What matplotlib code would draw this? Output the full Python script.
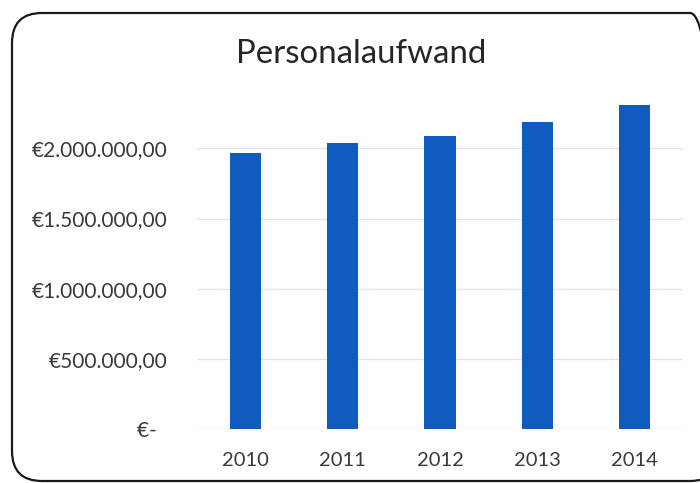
"""Personalaufwand 2010-2014 als Säulendiagramm (PNG)."""

import matplotlib
matplotlib.use("Agg")

import matplotlib.pyplot as plt
from matplotlib.patches import FancyBboxPatch

# Daten
jahre = ["2010", "2011", "2012", "2013", "2014"]
personalaufwand = [1965000, 2036000, 2090000, 2185000, 2308000]
y_ticks = [0, 500000, 1000000, 1500000, 2000000]

FARBE_BALKEN = "#0f5cbe"
FARBE_TEXT = "#3a3a3a"
FARBE_GITTER = "#e3e3e3"

plt.rcParams["font.family"] = ["Lato", "DejaVu Sans"]


def _euro(v, _=None):
    # Buchhaltungsformat: Null als "€-" mit Abstand nach rechts
    if v == 0:
        return "€-  "
    s = f"{v:,.2f}"
    return "€" + s.replace(",", "X").replace(".", ",").replace("X", ".")


W, H = 700, 483
fig = plt.figure(figsize=(W / 100, H / 100), dpi=100)
fig.patch.set_facecolor("white")

# Plotbereich in Pixeln: links 197, rechts 683, unten 429, oben 99
ax = fig.add_axes([197 / W, 1 - 429.3 / H, (683 - 197) / W, (429.3 - 99) / H])
x = range(len(jahre))
ax.bar(x, personalaufwand, width=0.32, color=FARBE_BALKEN, zorder=3)
ax.set_xlim(-0.5, len(jahre) - 0.5)
ax.set_ylim(0, 2351000)
ax.set_xticks(list(x))
ax.set_xticklabels(jahre)
ax.set_yticks(y_ticks)
ax.yaxis.set_major_formatter(plt.FuncFormatter(_euro))
ax.grid(axis="y", color=FARBE_GITTER, linewidth=1.0, zorder=0)
ax.tick_params(length=0, colors=FARBE_TEXT)
ax.tick_params(axis="y", pad=21, labelsize=15)
ax.tick_params(axis="x", pad=16, labelsize=14.5)
for sp in ax.spines.values():
    sp.set_visible(False)

fig.text(361.5 / W, 1 - 54 / H, "Personalaufwand", ha="center", va="center",
         fontsize=23.8, color="#262626")

# Abgerundeter Rahmen um das ganze Diagramm (rechts angeschnitten)
rahmen = FancyBboxPatch((12 / 100, (H - 481) / 100), (720 - 12) / 100, (481 - 13) / 100,
                        boxstyle="round,pad=0,rounding_size=0.3",
                        transform=fig.dpi_scale_trans, fill=False,
                        edgecolor="#1a1a1a", linewidth=1.6, clip_on=False)
fig.patches.append(rahmen)

fig.savefig("out.png", dpi=100, facecolor="white")
